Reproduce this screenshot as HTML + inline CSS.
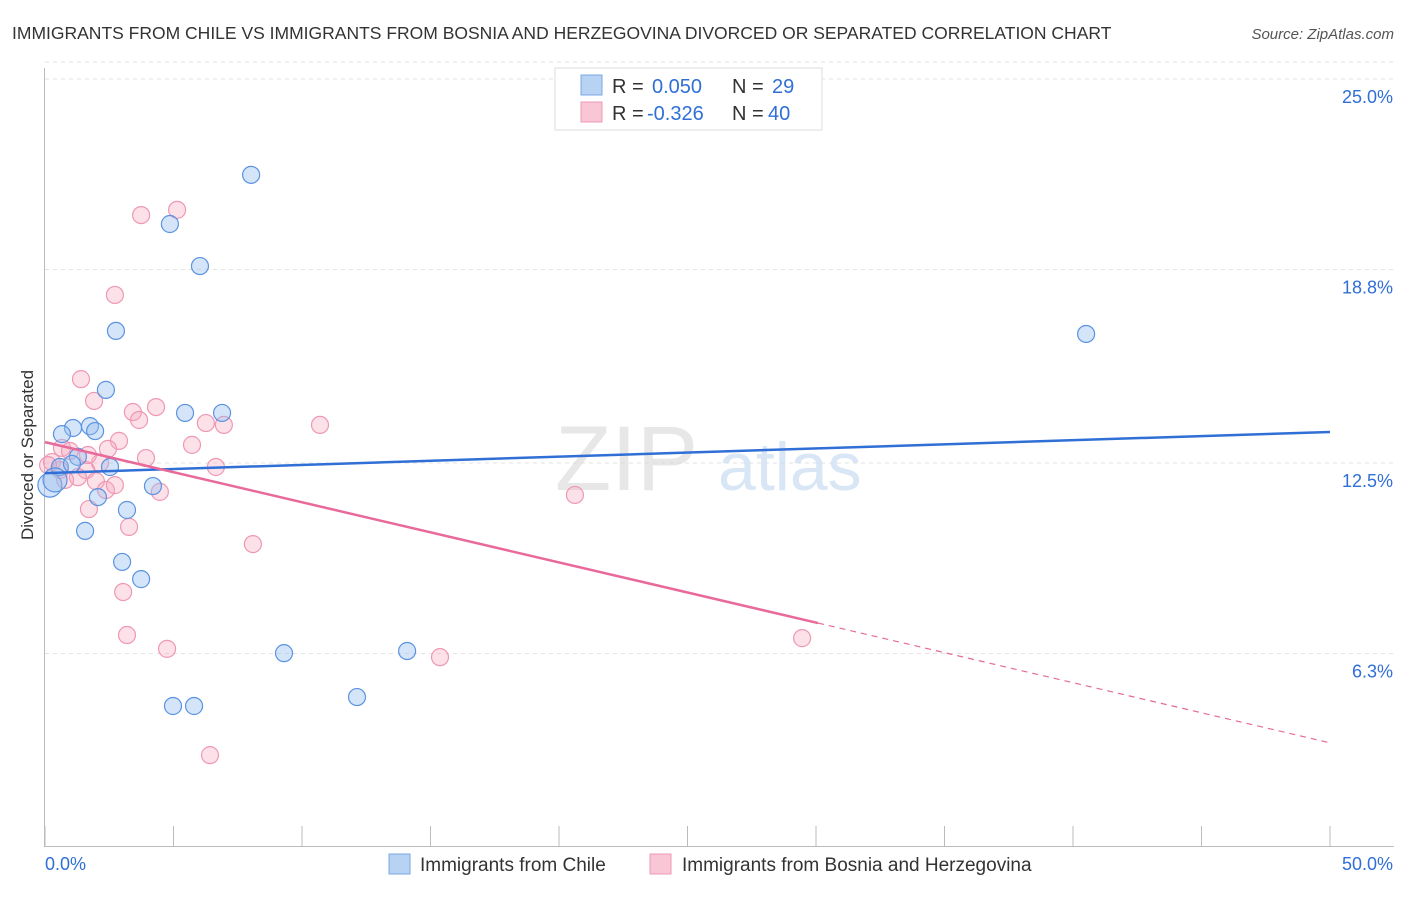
<!DOCTYPE html>
<html><head><meta charset="utf-8"><style>
body{margin:0;background:#fff;font-family:"Liberation Sans",sans-serif;}
svg text{font-family:"Liberation Sans",sans-serif;}
</style></head><body>
<svg id="chart" width="1406" height="892" xmlns="http://www.w3.org/2000/svg">
<text x="12" y="39" font-size="17.5" fill="#333">IMMIGRANTS FROM CHILE VS IMMIGRANTS FROM BOSNIA AND HERZEGOVINA DIVORCED OR SEPARATED CORRELATION CHART</text>
<text x="1394" y="39" font-size="15" fill="#555" font-style="italic" text-anchor="end">Source: ZipAtlas.com</text>
<text x="33" y="455" font-size="17" fill="#333" text-anchor="middle" transform="rotate(-90 33 455)">Divorced or Separated</text>
<g id="grid"></g>
<g><text x="555" y="490" font-size="92" fill="#ddd" font-family="Liberation Serif" opacity="0.7">ZIP</text><text x="718" y="490" font-size="68" fill="#c9dcf2" opacity="0.7">atlas</text></g>
<g id="axes"></g>
<g id="pts"></g>
<g id="lines"></g>
<g>
<rect x="555" y="68" width="267" height="62" fill="#fff" stroke="#ddd"/>
<rect x="581" y="75" width="21" height="20" fill="#b7d2f3" stroke="#7aa7e6"/>
<rect x="581" y="102" width="21" height="20" fill="#f9c6d6" stroke="#ef98b4"/>
<text x="612" y="93" font-size="20" fill="#333">R = <tspan fill="#2f6fd6" x="652">0.050</tspan><tspan x="732" fill="#333">N =</tspan><tspan x="772" fill="#2f6fd6">29</tspan></text>
<text x="612" y="120" font-size="20" fill="#333">R = <tspan fill="#2f6fd6" x="647">-0.326</tspan><tspan x="732" fill="#333">N =</tspan><tspan x="768" fill="#2f6fd6">40</tspan></text>
</g>
<g>
<rect x="389" y="854" width="21" height="20" fill="#b7d2f3" stroke="#7aa7e6"/>
<text x="420" y="871" font-size="19" fill="#333">Immigrants from Chile</text>
<rect x="650" y="854" width="21" height="20" fill="#f9c6d6" stroke="#ef98b4"/>
<text x="682" y="871" font-size="19" fill="#333">Immigrants from Bosnia and Herzegovina</text>
</g>
</svg>
<script>
const chileX=[8.02,4.86,6.03,2.76,40.51,2.37,5.45,6.89,1.09,1.75,1.95,0.66,1.28,2.53,0.58,1.05,4.20,2.06,3.19,1.56,3.00,3.74,9.30,14.09,12.14,4.98,5.80,0.19,0.39];
const chileY=[21.88,20.28,18.91,16.80,16.70,14.88,14.13,14.13,13.64,13.70,13.54,13.44,12.70,12.37,12.37,12.47,11.75,11.39,10.97,10.29,9.28,8.72,6.31,6.38,4.88,4.59,4.59,11.78,11.95];
const bosX=[3.74,5.14,2.72,1.40,1.91,4.32,3.42,3.66,10.70,6.26,6.96,2.88,2.45,5.72,0.66,0.97,3.93,0.27,2.14,1.60,6.65,1.28,1.98,2.37,4.47,20.62,1.71,3.27,8.09,3.04,3.19,4.75,29.46,15.37,6.42,0.58,0.12,0.78,1.67,2.72];
const bosY=[20.57,20.74,17.97,15.23,14.52,14.32,14.16,13.90,13.74,13.80,13.74,13.22,12.96,13.09,12.99,12.89,12.66,12.53,12.50,12.27,12.37,12.04,11.91,11.62,11.56,11.46,11.00,10.42,9.86,8.30,6.90,6.45,6.80,6.18,2.99,12.27,12.43,11.95,12.76,11.78];
const chileTrend=[12.17,13.51];
const bosTrend=[13.18,3.39];
const bosSolidEnd=30.08;
const yTicks=[6.3,12.5,18.8,25.0];
const yTickLabels=["6.3%","12.5%","18.8%","25.0%"];
const xTickVals=[0,5,10,15,20,25,30,35,40,45,50];
const xEndLabels=["0.0%","50.0%"];
const NS="http://www.w3.org/2000/svg";
const sx=v=>45+v*25.7, sy=v=>847-v*30.72;
function mk(tag,attrs,parent){const e=document.createElementNS(NS,tag);for(const k in attrs)e.setAttribute(k,attrs[k]);parent.appendChild(e);return e;}
const grid=document.getElementById('grid'),axes=document.getElementById('axes'),pts=document.getElementById('pts'),lines=document.getElementById('lines');
yTicks.forEach((t,i)=>{const l=mk('line',{x1:45,x2:1394,y1:sy(t),y2:sy(t),stroke:'#e2e2e2','stroke-dasharray':'4,4'},grid);


const tx=mk('text',{x:1393,y:sy(t)+24,'font-size':18,fill:'#2f6fd6','text-anchor':'end'},axes);tx.textContent=yTickLabels[i];

});
mk('line',{x1:45,x2:1394,y1:sy(25.0)-17,y2:sy(25.0)-17,stroke:'#e2e2e2','stroke-dasharray':'4,4'},grid);
const ya=mk('line',{x1:44.5,x2:44.5,y1:68,y2:847,stroke:'#bbb'},axes);


const xa=mk('line',{x1:45,x2:1394,y1:846.5,y2:846.5,stroke:'#bbb'},axes);


xTickVals.forEach(v=>{const t=mk('line',{x1:sx(v),x2:sx(v),y1:826,y2:847,stroke:'#bbb'},axes);

});
const xl0=mk('text',{x:45,y:870,'font-size':18,fill:'#2f6fd6'},axes);xl0.textContent=xEndLabels[0];


const xl1=mk('text',{x:1393,y:870,'font-size':18,fill:'#2f6fd6','text-anchor':'end'},axes);xl1.textContent=xEndLabels[1];


bosX.forEach((x,i)=>{const c=mk('circle',{cx:sx(x),cy:sy(bosY[i]),r:8.5,fill:'rgba(247,168,192,0.35)',stroke:'#ef98b4','stroke-width':1.2},pts);

});
chileX.forEach((x,i)=>{const c=mk('circle',{cx:sx(x),cy:sy(chileY[i]),r:i>=27?12:8.5,fill:'rgba(150,190,240,0.4)',stroke:'#5b93e0','stroke-width':1.2},pts);

});
const bl=mk('line',{x1:sx(0),y1:sy(chileTrend[0]),x2:sx(50),y2:sy(chileTrend[1]),stroke:'#2f6fd6','stroke-width':2.5},lines);


const by=v=>bosTrend[0]+(bosTrend[1]-bosTrend[0])*v/50;
const pl=mk('line',{x1:sx(0),y1:sy(by(0)),x2:sx(bosSolidEnd),y2:sy(by(bosSolidEnd)),stroke:'#e8699a','stroke-width':2.5},lines);


const pd=mk('line',{x1:sx(bosSolidEnd),y1:sy(by(bosSolidEnd)),x2:sx(50),y2:sy(by(50)),stroke:'#e8699a','stroke-width':1.2,'stroke-dasharray':'6,5'},lines);


</script>
</body></html>
